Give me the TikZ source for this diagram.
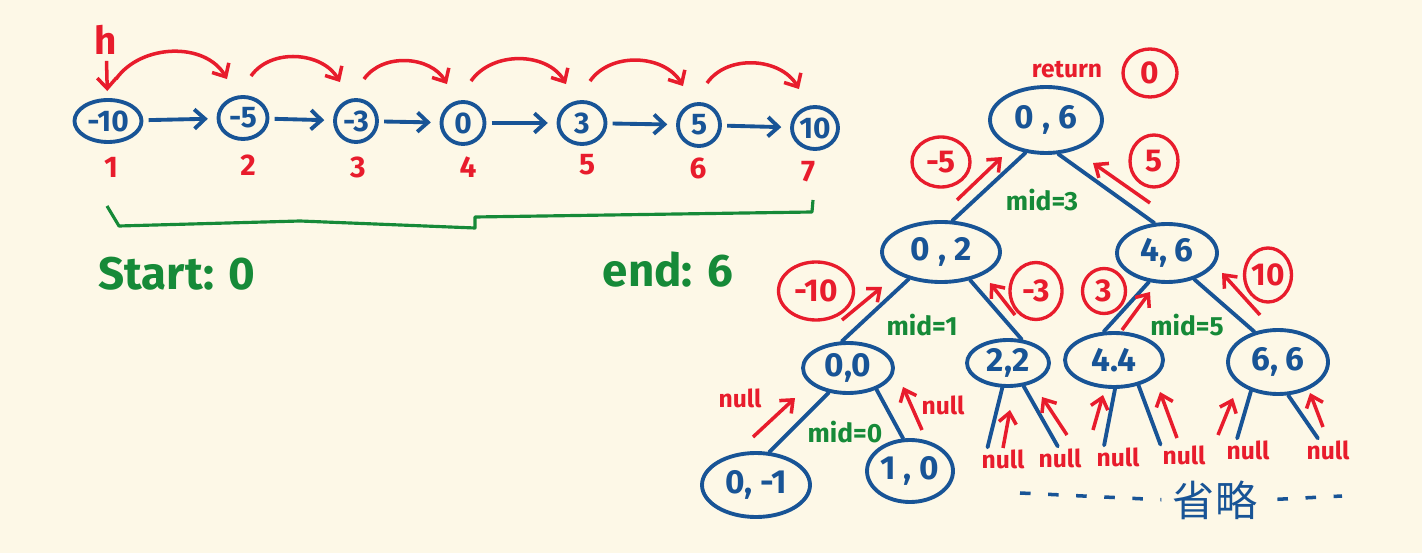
\documentclass[tikz,border=0pt]{standalone}
\usepackage{fontspec}
\setmainfont{Fira Sans}
\newfontfamily\cjk{Noto Sans CJK SC}
\usetikzlibrary{positioning,arrows.meta,shapes.geometric}
\definecolor{paper}{RGB}{253,248,231}
\definecolor{inkblue}{RGB}{24,84,150}
\definecolor{inkred}{RGB}{232,28,44}
\definecolor{inkgreen}{RGB}{22,138,56}
\newcommand{\pxu}{0.02cm}
\newcommand{\hand}[1]{\fontsize{#1}{#1}\selectfont\bfseries}
\tikzset{listnode/.style={ellipse, draw=inkblue, line width=2.2pt, inner sep=0pt,
                          text=inkblue, font=\hand{17}},
        treenode/.style={ellipse, draw=inkblue, line width=2.2pt, inner sep=0pt,
                          text=inkblue, font=\hand{19}},
        valuemark/.style={ellipse, draw=inkred, line width=1.9pt, inner sep=0pt,
                          text=inkred, font=\hand{18}},
        index/.style={text=inkred, font=\hand{17}},
        redtext/.style={text=inkred, inner sep=1pt, font=\hand{14}},
        greentext/.style={text=inkgreen, font=\hand{26}},
        midtext/.style={text=inkgreen, inner sep=1pt, font=\hand{15}},
        link/.style={draw=inkblue, line width=2.2pt, shorten <=3pt, shorten >=5pt,
                     -{Straight Barb[length=6pt,width=11pt]}},
        hop/.style={draw=inkred, line width=2pt, -{Straight Barb[length=6pt,width=11pt]}},
        ret/.style={draw=inkred, line width=2pt, -{Straight Barb[length=6pt,width=10pt]}},
        branch/.style={draw=inkblue, line width=2.2pt, line cap=round},
        span/.style={draw=inkgreen, line width=1.8pt, line join=round},
        skipline/.style={draw=inkblue, line width=2pt, dash pattern=on 6pt off 10pt},
        }

\begin{document}
\begin{tikzpicture}[x=0.02cm,y=0.02cm]
    \fill[paper] (0,0) rectangle (1422,-553);

    % sorted list
    \node[text=inkred, font=\hand{22}] (h) at (106,-40) {h};
    \foreach \v/\x/\y/\w/\ix/\iy [count=\i] in {-10/108/121/67/111/167, -5/243/118/49/248/165,
        -3/356/121/42/358/167, 0/463/123/43/468/167, 3/582/123/47/587/165,
        5/699/125/42/698/168, 10/815/128/46/808/172}
    {
        \node[listnode, minimum width=\w*\pxu, minimum height=42*\pxu] (l\i) at (\x,-\y) {\v};
        \node[index] (i\i) at (\ix,-\iy) {\i};
    }
    \draw[hop, shorten >=4pt] (h) -- (l1);
    \foreach \a/\b in {1/2,2/3,3/4,4/5,5/6,6/7}
    {
        \draw[link] (l\a) -- (l\b);
        \draw[hop] ([shift={(8,19)}]l\a.north) to[out=55,in=120]
            ([shift={(-16,16)}]l\b.north);
    }
    \draw[span] (107,-206) -- (119,-226) -- (300,-221) -- (475,-228) -- (475,-217)
        -- (812,-212) -- (813,-200);
    \node[greentext] (start) at (177,-274) {Start: 0};
    \node[greentext] (end) at (668,-270) {end: 6};

    % recursion tree
    \foreach \n/\t/\x/\y/\w/\h in {t06/{0 , 6}/1046/120/112/66, t02/{0 , 2}/941/252/118/60,
        t46/{4, 6}/1167/253/100/58, t00/{0,0}/848/368/90/50, t22/{2,2}/1008/363/82/46,
        t44/{4.4}/1114/360/98/54, t66/{6, 6}/1278/362/100/64, t0m1/{0, -1}/756/485/108/64,
        t10/{1 , 0}/910/471/86/62}
        \node[treenode, minimum width=\w*\pxu, minimum height=\h*\pxu] (\n) at (\x,-\y) {\t};

    \foreach \n/\x/\y in {n1/1003/459, n2/1060/458, n3/1118/457, n4/1184/455,
        n5/1248/450, n6/1328/450, nl/740/398, nr/943/405}
        \node[redtext] (\n) at (\x,-\y) {null};

    \foreach \s/\sa/\e/\ea in {t06/238/t02/70, t06/290/t46/113, t02/220/t00/103,
        t02/316/t22/60, t46/238/t44/110, t46/316/t66/128, t00/232/t0m1/68,
        t00/323/t10/102, t22/257/n1/143, t22/304/n2/101, t44/272/n3/140,
        t44/314/n4/156, t66/227/n5/133, t66/287/n6/131}
        \draw[branch] (\s.\sa) -- (\e.\ea);

    \foreach \s/\sx/\sy/\e/\ex/\ey in {t02/16/52/t06/-44/-37, t46/-17/50/t06/47/-43,
        t00/-6/48/t02/-59/-35, t22/7/48/t02/49/-31, t44/8/30/t46/-17/-39,
        t66/-18/47/t46/55/-20, t0m1/-3/48/t00/-53/-30, t10/12/41/t00/55/-19,
        n1/0/11/t22/2/-47, n2/7/23/t22/34/-34, n3/-25/27/t44/-11/-35,
        n4/-7/17/t44/46/-32, n5/-30/15/t66/-45/-36, n6/-5/23/t66/32/-31}
        \draw[ret] ([shift={(\sx,\sy)}]\s.center) -- ([shift={(\ex,\ey)}]\e.center);

    \foreach \n/\v/\x/\y/\w/\h in {v0/0/1150/73/54/48, vm5/-5/941/162/58/50,
        v5/5/1154/161/48/52, vm10/-10/816/291/75/58, vm3/-3/1036/291/52/57,
        v3/3/1104/291/43/45, v10/10/1268/275/47/54}
        \node[valuemark, minimum width=\w*\pxu, minimum height=\h*\pxu] (\n) at (\x,-\y) {\v};
    \node[redtext] (return) at (1067,-70) {return};

    \node[midtext] (m3) at (1042,-200) {mid=3};
    \node[midtext] (m1) at (922,-325) {mid=1};
    \node[midtext] (m5) at (1187,-325) {mid=5};
    \node[midtext] (m0) at (845,-432) {mid=0};

    \coordinate (dl) at (1020,-493);
    \coordinate (dr) at (1342,-496);
    \node[text=inkblue, font=\cjk\fontsize{24}{24}\selectfont] (omit) at (1215,-500) {省略};
    \draw[skipline, shorten >=3pt] (dl) -- (omit.west);
    \draw[skipline, shorten <=8pt] (omit.east) -- (dr);
\end{tikzpicture}
\end{document}
